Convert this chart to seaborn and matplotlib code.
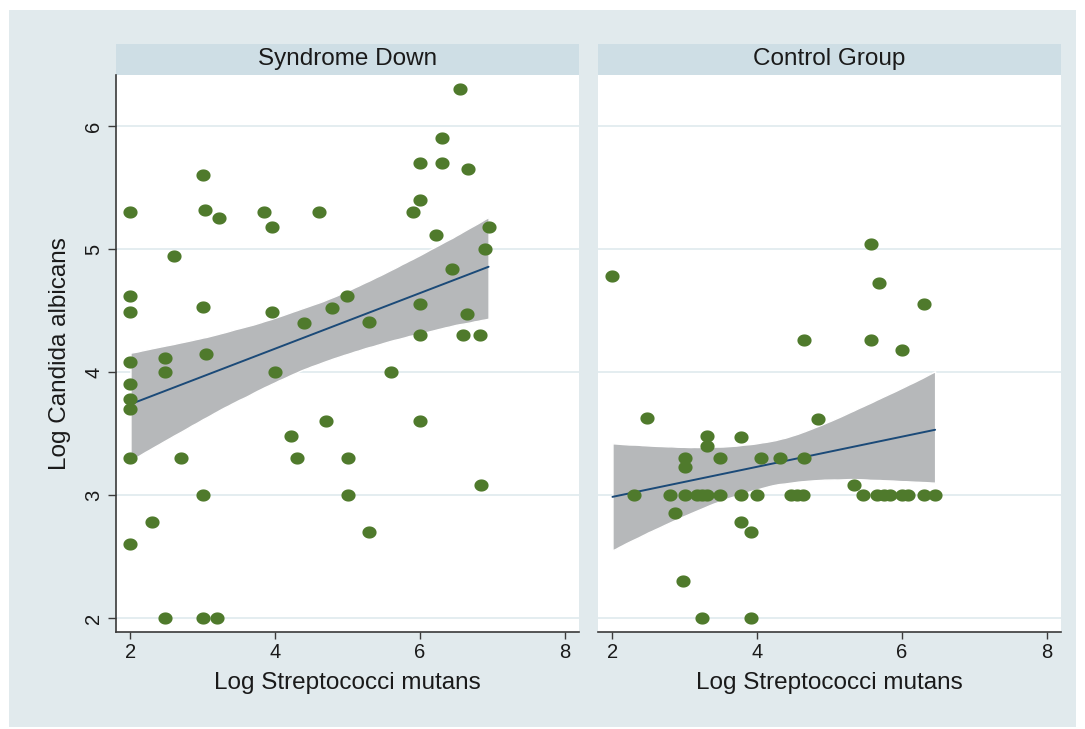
import numpy as np
import pandas as pd
import matplotlib
matplotlib.use("Agg")
import matplotlib.pyplot as plt
from matplotlib.path import Path
from matplotlib.patches import Rectangle
from matplotlib.collections import PolyCollection
import seaborn as sns

# ---------------- data ----------------
groups = ["Syndrome Down", "Control Group"]

sd_x = [2.0, 2.0, 2.0, 2.0, 2.0, 2.0, 2.0, 2.0, 2.0, 2.3, 2.48, 2.48, 2.48, 2.6, 2.7,
        3.0, 3.03, 3.22, 3.0, 3.04, 3.0, 3.0, 3.2, 3.85, 3.96, 3.96, 4.0, 4.22, 4.3,
        4.4, 4.6, 4.7, 4.78, 4.99, 5.0, 5.0, 5.3, 5.3, 5.6, 5.9, 6.0, 6.0, 6.0, 6.0,
        6.0, 6.22, 6.3, 6.3, 6.44, 6.55, 6.6, 6.65, 6.66, 6.83, 6.84, 6.9, 6.95]
sd_y = [5.3, 4.62, 4.49, 4.08, 3.9, 3.78, 3.7, 3.3, 2.6, 2.78, 4.11, 4.0, 2.0, 4.94, 3.3,
        5.6, 5.32, 5.25, 4.53, 4.15, 3.0, 2.0, 2.0, 5.3, 5.18, 4.49, 4.0, 3.48, 3.3,
        4.4, 5.3, 3.6, 4.52, 4.62, 3.3, 3.0, 4.41, 2.7, 4.0, 5.3, 5.7, 5.4, 4.55, 4.3,
        3.6, 5.11, 5.9, 5.7, 4.84, 6.3, 4.3, 4.47, 5.65, 4.3, 3.08, 5.0, 5.18]

cg_x = [2.0, 2.3, 2.48, 2.79, 2.86, 2.97, 3.0, 3.0, 3.0, 3.17, 3.24, 3.24, 3.31, 3.31,
        3.31, 3.48, 3.48, 3.78, 3.78, 3.78, 3.91, 3.91, 4.0, 4.05, 4.31, 4.47, 4.55,
        4.63, 4.65, 4.65, 4.84, 5.34, 5.46, 5.58, 5.58, 5.66, 5.68, 5.76, 5.84, 6.0,
        6.0, 6.08, 6.3, 6.31, 6.46]
cg_y = [4.78, 3.0, 3.63, 3.0, 2.85, 2.3, 3.3, 3.23, 3.0, 3.0, 3.0, 2.0, 3.48, 3.4,
        3.0, 3.3, 3.0, 3.47, 3.0, 2.78, 2.7, 2.0, 3.0, 3.3, 3.3, 3.0, 3.0,
        3.0, 3.3, 4.26, 3.62, 3.08, 3.0, 5.04, 4.26, 3.0, 4.72, 3.0, 3.0, 3.0,
        4.18, 3.0, 3.0, 4.55, 3.0]

x_ticks = [2, 4, 6, 8]
y_ticks = [2, 3, 4, 5, 6]
x_label = "Log Streptococci mutans"
y_label = "Log Candida albicans"

# ---------------- style ----------------
BG = "#e1eaed"
STRIP = "#cedee5"
GRID = "#e4edf0"
BAND = "#b6b8ba"
GREEN = "#4f7a2c"
BLUE = "#1b4a78"
AXC = "#3a3a3a"
TXT = "#1a1a1a"

sns.set_theme(style="white")
plt.rcParams["font.family"] = ["Liberation Sans", "DejaVu Sans"]

df = pd.DataFrame({
    "group": [groups[0]] * len(sd_x) + [groups[1]] * len(cg_x),
    "strep": sd_x + cg_x,
    "candida": sd_y + cg_y,
})

W, H = 1085, 729
g = sns.FacetGrid(df, col="group", col_order=groups, sharex=True, sharey=True,
                  height=5, aspect=1)
fig = g.figure
fig.set_size_inches(W / 100, H / 100)
fig.set_dpi(100)
fig.patch.set_facecolor("white")

# outer light background
fig.add_artist(Rectangle((9 / W, (H - 727) / H), (1076 - 9) / W, (727 - 10) / H,
                         transform=fig.transFigure, facecolor=BG,
                         edgecolor="none", zorder=-10))

theta = np.linspace(0, 2 * np.pi, 64)
ell = Path(np.column_stack([np.cos(theta), 0.86 * np.sin(theta)]), closed=True)

panel_px = [(116, 579), (598, 1061)]
top_px, bot_px = 75, 632
strip_top = 44

for i, (ax, grp) in enumerate(zip(g.axes.flat, groups)):
    x0, x1 = panel_px[i]
    ax.set_position([x0 / W, (H - bot_px) / H, (x1 - x0) / W, (bot_px - top_px) / H])
    ax.set_facecolor("white")
    sub = df[df["group"] == grp]
    sns.regplot(data=sub, x="strep", y="candida", ax=ax, ci=95, n_boot=10000, seed=7,
                marker=ell,
                scatter_kws=dict(s=104, color=GREEN, linewidths=0, alpha=1, zorder=3),
                line_kws=dict(color=BLUE, lw=1.4, zorder=2))
    for coll in ax.collections:
        if isinstance(coll, PolyCollection):
            coll.set_facecolor(BAND)
            coll.set_alpha(1)
            coll.set_zorder(1)

    ax.set_xlim(1.8, 8.2)
    ax.set_ylim(1.886, 6.415)
    ax.set_xticks(x_ticks)
    ax.set_yticks(y_ticks)
    ax.yaxis.grid(True, color=GRID, lw=1.4)
    ax.xaxis.grid(False)
    ax.set_axisbelow(True)
    ax.set_title("")
    for s in ["top", "right"]:
        ax.spines[s].set_visible(False)
    ax.spines["bottom"].set_visible(True)
    ax.spines["bottom"].set_color(AXC)
    ax.spines["bottom"].set_linewidth(1.2)
    ax.tick_params(axis="x", direction="out", length=5, width=1, color=AXC,
                   labelsize=14.5, labelcolor=TXT, pad=3, bottom=True)
    ax.set_xlabel(x_label, fontsize=17.5, color=TXT, labelpad=7)
    if i == 0:
        ax.spines["left"].set_visible(True)
        ax.spines["left"].set_color(AXC)
        ax.spines["left"].set_linewidth(1.2)
        ax.tick_params(axis="y", direction="out", length=6, width=1, color=AXC,
                       labelsize=14.5, labelcolor=TXT, pad=3, left=True,
                       labelleft=True, labelrotation=90)
        for lab in ax.get_yticklabels():
            lab.set_va("center")
        ax.set_ylabel(y_label, fontsize=17.5, color=TXT, labelpad=10)
    else:
        ax.spines["left"].set_visible(False)
        ax.tick_params(axis="y", left=False, labelleft=False)
        ax.set_ylabel("")

    # strip header
    fig.add_artist(Rectangle((x0 / W, (H - top_px) / H), (x1 - x0) / W,
                             (top_px - strip_top) / H, transform=fig.transFigure,
                             facecolor=STRIP, edgecolor="none", zorder=-5))
    fig.text((x0 + x1) / 2 / W, (H - (strip_top + top_px) / 2) / H, grp,
             ha="center", va="center", fontsize=17.5, color=TXT)

fig.savefig("out.png", dpi=100)
